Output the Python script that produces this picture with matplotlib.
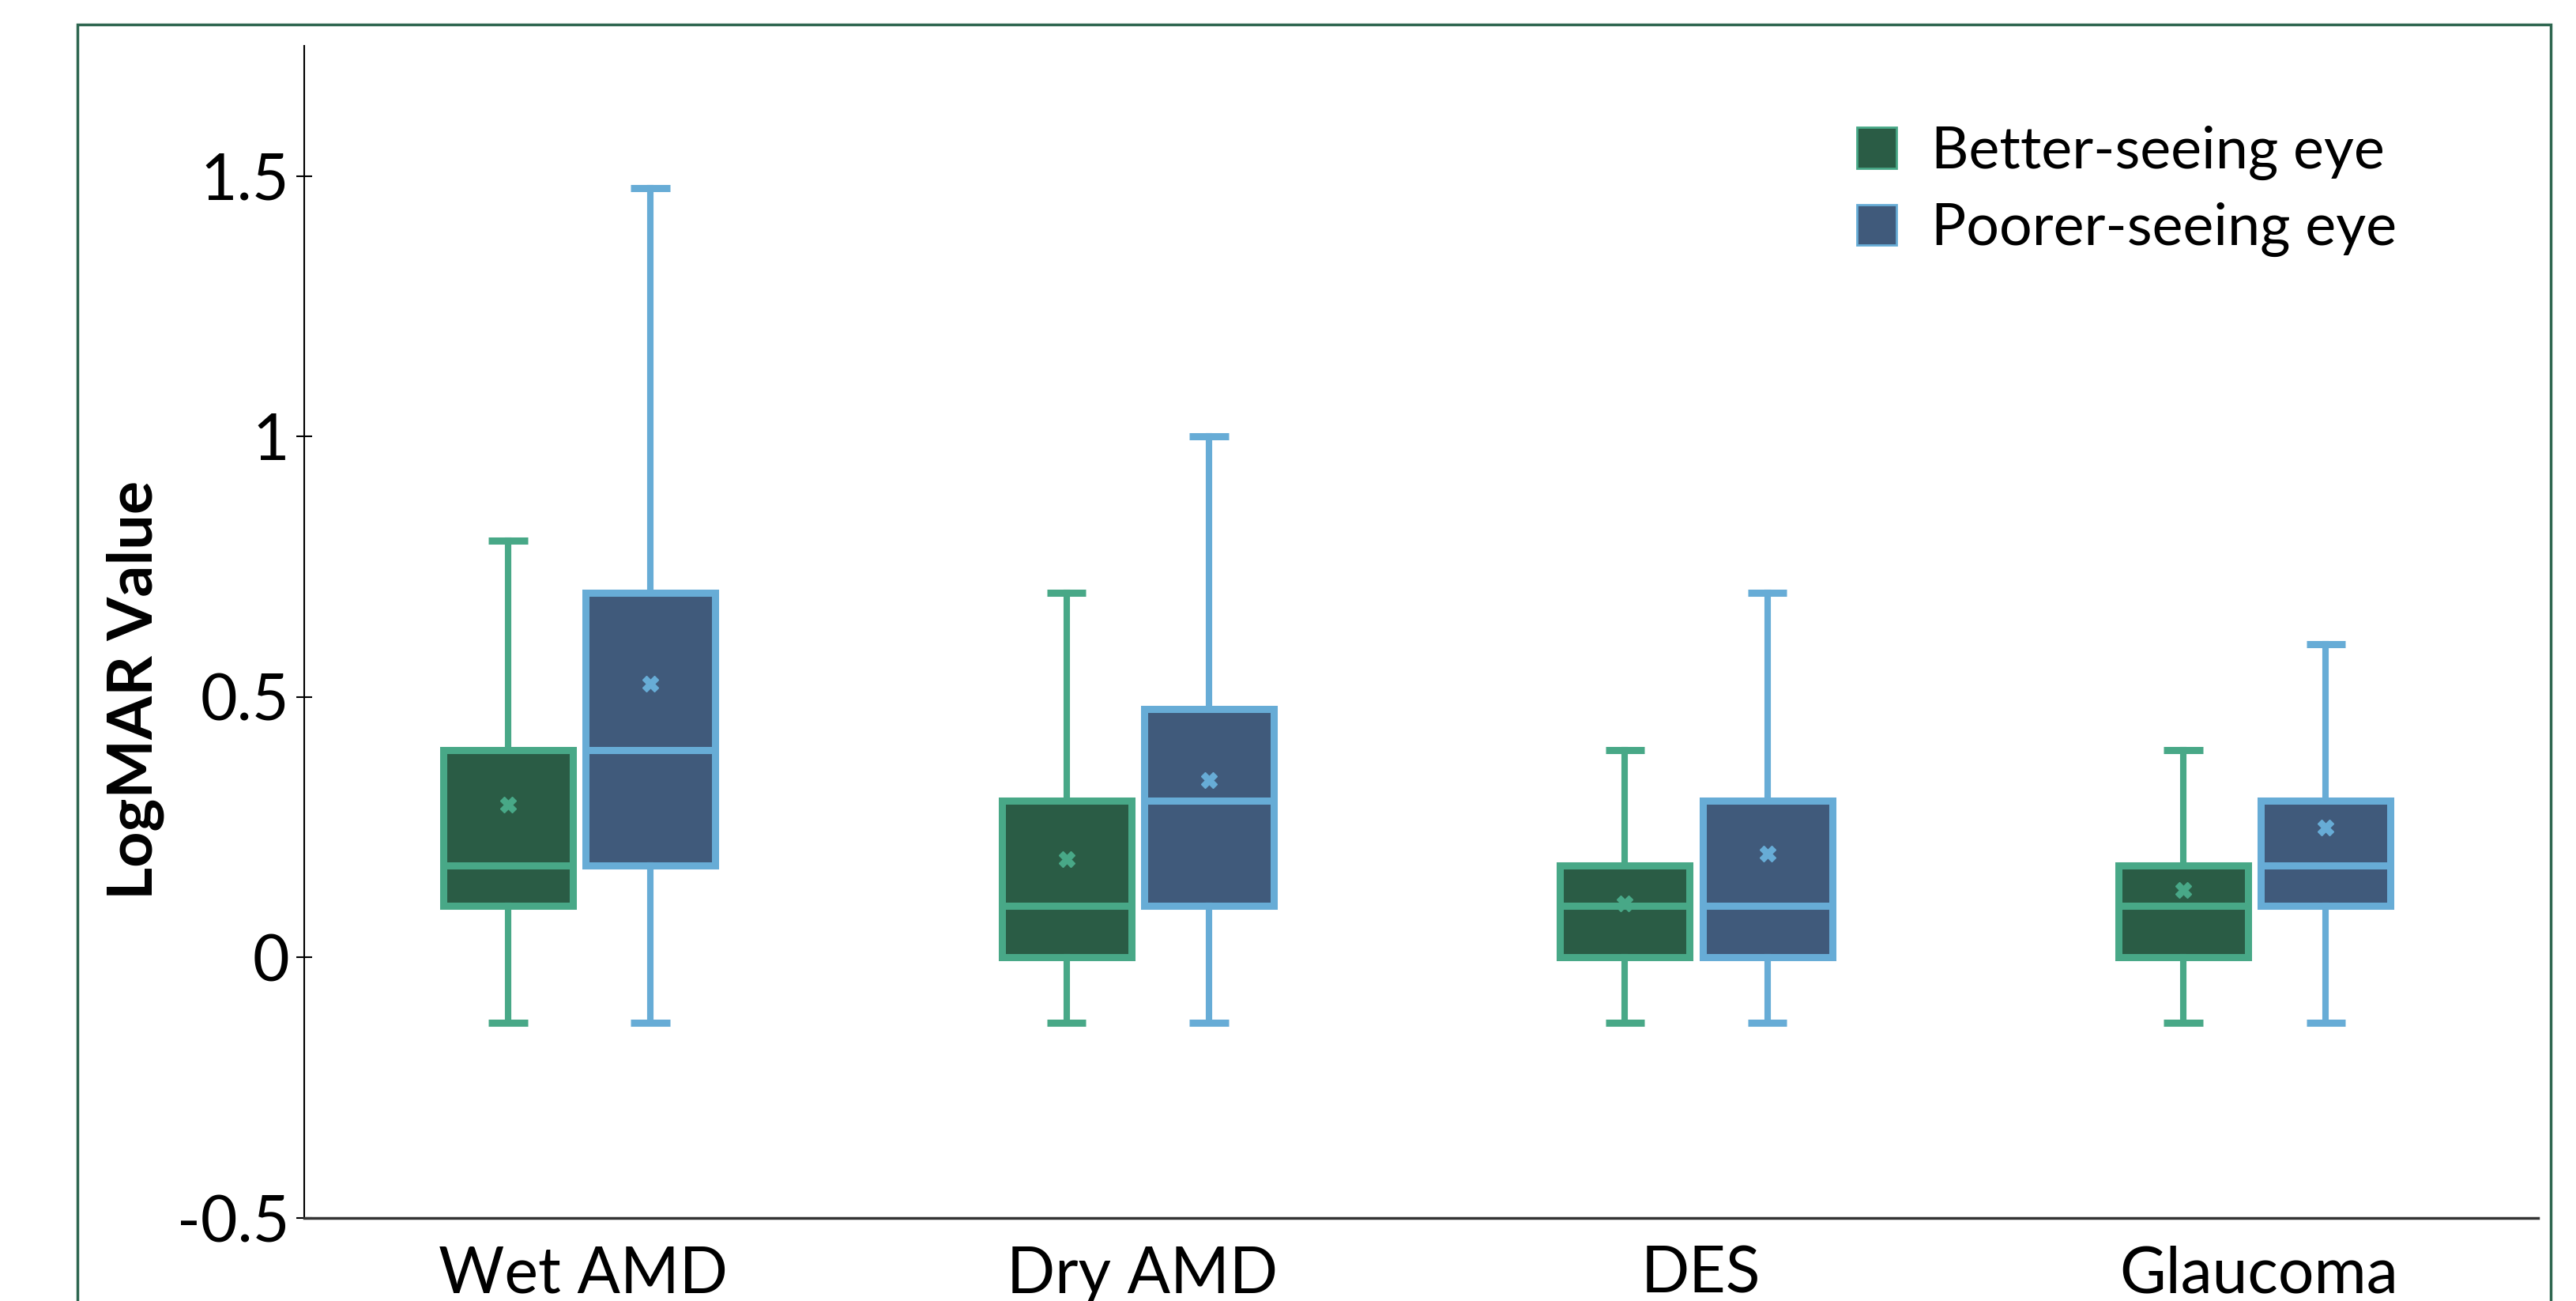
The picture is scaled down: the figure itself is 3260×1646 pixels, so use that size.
import matplotlib
matplotlib.use("Agg")
import matplotlib.pyplot as plt
from matplotlib.patches import Patch, Rectangle

# ── DATA ─────────────────────────────────────────────

categories = ["Wet AMD", "Dry AMD", "DES", "Glaucoma"]
series_names = ["Better-seeing eye", "Poorer-seeing eye"]

# LogMAR box statistics per category (better-seeing eye)
better_low = [-0.125, -0.125, -0.125, -0.125]
better_q1 = [0.1, 0.0, 0.0, 0.0]
better_med = [0.176, 0.1, 0.1, 0.1]
better_q3 = [0.398, 0.301, 0.176, 0.176]
better_high = [0.8, 0.7, 0.398, 0.398]
better_mean = [0.293, 0.189, 0.104, 0.129]

# LogMAR box statistics per category (poorer-seeing eye)
poorer_low = [-0.125, -0.125, -0.125, -0.125]
poorer_q1 = [0.176, 0.1, 0.0, 0.1]
poorer_med = [0.398, 0.301, 0.1, 0.176]
poorer_q3 = [0.7, 0.477, 0.301, 0.301]
poorer_high = [1.477, 1.0, 0.7, 0.602]
poorer_mean = [0.526, 0.34, 0.2, 0.249]

ytick_values = [-0.5, 0, 0.5, 1, 1.5]
ytick_labels = ["-0.5", "0", "0.5", "1", "1.5"]

# ── STYLE ─────────────────────────────────────────────

plt.rcParams["font.family"] = ["Lato", "DejaVu Sans"]

fill_colors = ["#2a5c45", "#405a7b"]
edge_colors = ["#48a887", "#67acd6"]
offsets = [-0.135, 0.12]
box_width = 0.232
lw = 6.5

# ── PLOT ─────────────────────────────────────────────

fig = plt.figure(figsize=(32.6, 16.46), dpi=100)
ax = fig.add_axes([385 / 3260, 1 - 1541 / 1646, (3212 - 385) / 3260, (1541 - 58) / 1646])

groups = [
    (better_low, better_q1, better_med, better_q3, better_high, better_mean),
    (poorer_low, poorer_q1, poorer_med, poorer_q3, poorer_high, poorer_mean),
]

for s, (lo, q1, med, q3, hi, mean) in enumerate(groups):
    stats = []
    for i in range(len(categories)):
        stats.append({"whislo": lo[i], "q1": q1[i], "med": med[i], "q3": q3[i],
                      "whishi": hi[i], "mean": mean[i], "fliers": []})
    positions = [i + offsets[s] for i in range(len(categories))]
    ax.bxp(stats, positions=positions, widths=box_width, capwidths=0.07,
           patch_artist=True, showmeans=True, showfliers=False,
           boxprops=dict(facecolor=fill_colors[s], edgecolor=edge_colors[s], linewidth=lw),
           medianprops=dict(color=edge_colors[s], linewidth=lw),
           whiskerprops=dict(color=edge_colors[s], linewidth=lw * 0.9),
           capprops=dict(color=edge_colors[s], linewidth=lw, solid_capstyle="butt"),
           meanprops=dict(marker="X", markerfacecolor=edge_colors[s],
                          markeredgecolor=edge_colors[s], markersize=15))

ax.set_xlim(-0.5, 3.5)
ax.set_ylim(-0.5, 1.75)
ax.set_xticks(range(len(categories)))
ax.set_xticklabels(categories, fontsize=58)
ax.tick_params(axis="x", length=0, pad=25)
ax.set_yticks(ytick_values)
ax.set_yticklabels(ytick_labels, fontsize=58)
ax.tick_params(axis="y", direction="inout", length=15, width=1.5, pad=6)
ax.set_ylabel("LogMAR Value", fontsize=57, fontweight="bold")
ax.yaxis.set_label_coords((208 - 385) / (3212 - 385), (1541 - 873) / (1541 - 58))

for side in ["top", "right"]:
    ax.spines[side].set_visible(False)
ax.spines["left"].set_linewidth(1.5)
ax.spines["bottom"].set_linewidth(2.5)
ax.spines["bottom"].set_color("#333333")

# Legend
handles = [Patch(facecolor=fill_colors[k], edgecolor=edge_colors[k], linewidth=2)
           for k in range(2)]
fig.legend(handles, series_names, loc="upper left",
           bbox_to_anchor=(2350 / 3260, 1 - 159 / 1646), frameon=False,
           fontsize=53, handlelength=0.68, handleheight=0.7,
           handletextpad=0.6, labelspacing=0.38, borderpad=0, borderaxespad=0)

# Outer frame
fig.add_artist(Rectangle((98 / 3260, -0.1), (3228 - 98) / 3260, 1.1 - 31 / 1646,
                         transform=fig.transFigure, fill=False,
                         edgecolor="#2e6650", linewidth=2.5))

fig.savefig("out.png", dpi=100)
